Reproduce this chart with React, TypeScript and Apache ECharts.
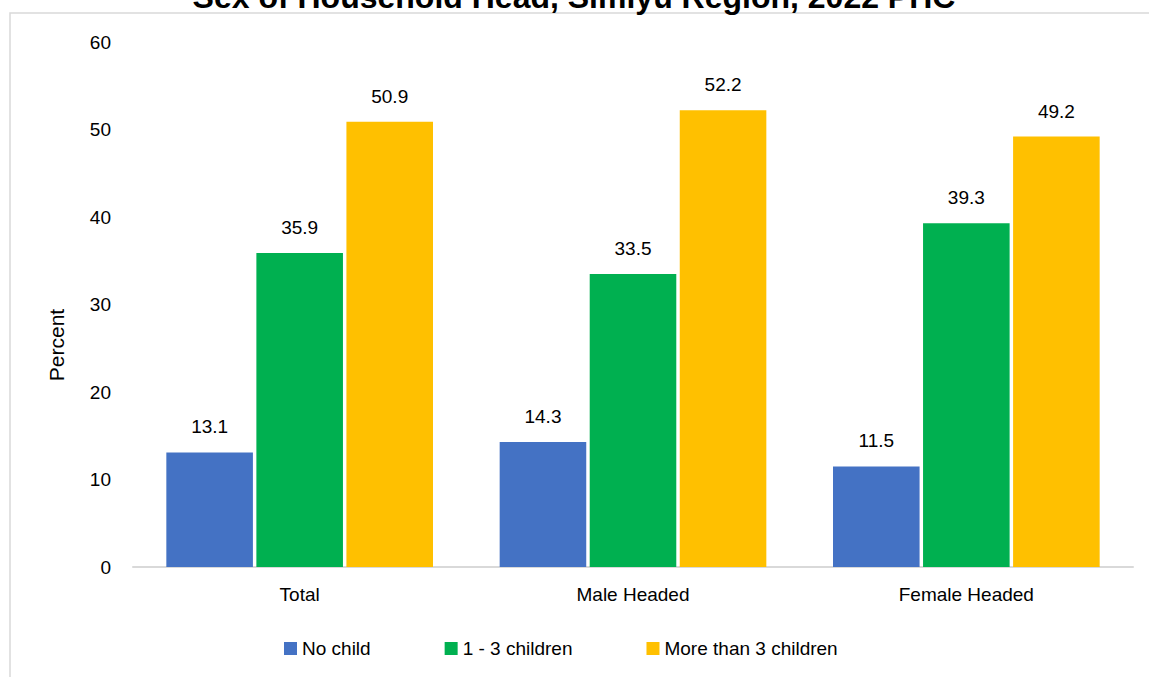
import React, { useEffect, useRef } from "react";
import * as echarts from "echarts";

const categories = ["Total", "Male Headed", "Female Headed"];
const seriesNames = ["No child", "1 - 3 children", "More than 3 children"];
const noChild = [13.1, 14.3, 11.5];
const oneToThree = [35.9, 33.5, 39.3];
const moreThanThree = [50.9, 52.2, 49.2];
const colors = ["#4472C4", "#00B050", "#FFC000"];
const titleText = "Sex of Household Head, Simiyu Region, 2022 PHC";
const yAxisTitle = "Percent";

const FONT = "Arial, 'Liberation Sans', sans-serif";

export default function App() {
  const ref = useRef<HTMLDivElement>(null);
  useEffect(() => {
    if (!ref.current) return;
    const chart = echarts.init(ref.current, null, { renderer: "svg" });
    const values = [noChild, oneToThree, moreThanThree];
    chart.setOption({
      animation: false,
      backgroundColor: "#ffffff",
      textStyle: { fontFamily: FONT },
      grid: { left: 133, right: 16, top: 42, bottom: 110, containLabel: false },
      legend: {
        left: 279,
        top: 634,
        itemWidth: 13,
        itemHeight: 13,
        itemGap: 74,
        icon: "rect",
        textStyle: { fontSize: 19, color: "#000", fontFamily: FONT },
        data: seriesNames,
      },
      xAxis: {
        type: "category",
        data: categories,
        axisLine: { show: true, lineStyle: { color: "#d9d9d9", width: 2 } },
        axisTick: { show: false },
        axisLabel: { fontSize: 19, color: "#000", margin: 18, fontFamily: FONT },
        splitLine: { show: false },
      },
      yAxis: {
        type: "value",
        min: 0,
        max: 60,
        interval: 10,
        axisLine: { show: false },
        axisTick: { show: false },
        splitLine: { show: false },
        axisLabel: { fontSize: 19, color: "#000", margin: 22, fontFamily: FONT },
      },
      graphic: [
        {
          type: "rect",
          shape: { x: 10, y: 13, width: 1300, height: 800 },
          style: { fill: "none", stroke: "#d9d9d9", lineWidth: 1.5 },
          silent: true,
        },
        {
          type: "text",
          x: 574,
          y: -3,
          style: {
            text: titleText,
            fill: "#000",
            font: `bold 32px ${FONT}`,
            textAlign: "center",
            textVerticalAlign: "middle",
          },
        },
        {
          type: "text",
          x: 56,
          y: 345,
          rotation: Math.PI / 2,
          style: {
            text: yAxisTitle,
            fill: "#000",
            font: `21px ${FONT}`,
            textAlign: "center",
            textVerticalAlign: "middle",
          },
        },
      ],
      series: seriesNames.map((name, i) => ({
        name,
        type: "bar",
        data: values[i],
        barCategoryGap: "20%",
        barGap: "4%",
        itemStyle: { color: colors[i] },
        label: {
          show: true,
          position: "top",
          distance: 16,
          fontSize: 19,
          color: "#000",
          fontFamily: FONT,
          formatter: (p: any) => Number(p.value).toFixed(1),
        },
      })),
    });
    return () => chart.dispose();
  }, []);
  return (
    <div
      ref={ref}
      style={{ position: "fixed", left: 0, top: 0, width: 1149, height: 677 }}
    />
  );
}
